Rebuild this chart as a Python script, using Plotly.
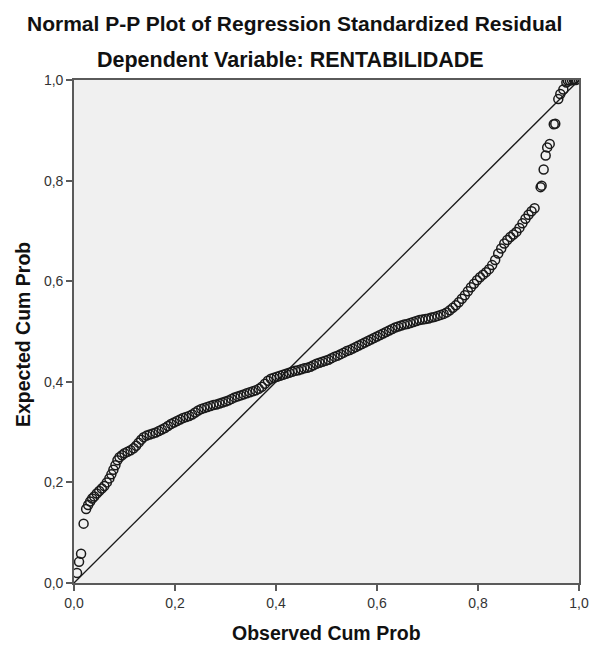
import plotly.graph_objects as go

# Observed cumulative probability (x) and expected cumulative probability (y)
observed = [
    0.006, 0.010, 0.014, 0.019, 0.024, 0.028, 0.032, 0.036, 0.040, 0.045,
    0.050, 0.055, 0.060, 0.065, 0.070, 0.074, 0.078, 0.082, 0.086, 0.090,
    0.095, 0.100, 0.106, 0.112, 0.118, 0.123, 0.128, 0.133, 0.138, 0.144,
    0.150, 0.156, 0.162, 0.168, 0.174, 0.180, 0.186, 0.192, 0.198, 0.204,
    0.210, 0.216, 0.222, 0.228, 0.234, 0.240, 0.246, 0.252, 0.258, 0.264,
    0.270, 0.276, 0.282, 0.288, 0.294, 0.300, 0.306, 0.312, 0.318, 0.324,
    0.330, 0.336, 0.342, 0.348, 0.354, 0.360, 0.366, 0.372, 0.378, 0.384,
    0.390, 0.396, 0.402, 0.408, 0.414, 0.420, 0.426, 0.432, 0.438, 0.444,
    0.450, 0.456, 0.462, 0.468, 0.474, 0.480, 0.486, 0.492, 0.498, 0.504,
    0.510, 0.516, 0.522, 0.528, 0.534, 0.540, 0.546, 0.552, 0.558, 0.564,
    0.570, 0.576, 0.582, 0.588, 0.594, 0.600, 0.606, 0.612, 0.618, 0.624,
    0.630, 0.636, 0.642, 0.648, 0.654, 0.660, 0.666, 0.672, 0.678, 0.684,
    0.690, 0.696, 0.702, 0.708, 0.714, 0.720, 0.726, 0.732, 0.738, 0.744,
    0.750, 0.756, 0.762, 0.768, 0.774, 0.780, 0.786, 0.792, 0.798, 0.804,
    0.810, 0.816, 0.822, 0.828, 0.834, 0.840, 0.846, 0.852, 0.858, 0.864,
    0.870, 0.876, 0.882, 0.888, 0.894, 0.900, 0.906, 0.912, 0.924, 0.926,
    0.930, 0.934, 0.937, 0.942, 0.950, 0.953, 0.959, 0.963, 0.969, 0.975,
    0.978, 0.982, 0.986, 0.990, 0.994,
]
expected = [
    0.020, 0.042, 0.058, 0.118, 0.147, 0.155, 0.162, 0.168, 0.172, 0.178,
    0.183, 0.188, 0.193, 0.200, 0.208, 0.216, 0.225, 0.234, 0.244, 0.250,
    0.254, 0.258, 0.261, 0.264, 0.268, 0.273, 0.279, 0.285, 0.290, 0.293,
    0.295, 0.297, 0.299, 0.302, 0.305, 0.308, 0.312, 0.316, 0.319, 0.322,
    0.325, 0.328, 0.330, 0.332, 0.335, 0.339, 0.343, 0.346, 0.348, 0.350,
    0.352, 0.354, 0.355, 0.357, 0.359, 0.361, 0.363, 0.366, 0.369, 0.371,
    0.373, 0.375, 0.377, 0.379, 0.381, 0.383, 0.386, 0.390, 0.396, 0.402,
    0.406, 0.408, 0.410, 0.412, 0.414, 0.416, 0.418, 0.420, 0.422, 0.423,
    0.425, 0.427, 0.428, 0.430, 0.433, 0.436, 0.438, 0.440, 0.442, 0.444,
    0.447, 0.450, 0.452, 0.455, 0.458, 0.461, 0.463, 0.466, 0.469, 0.472,
    0.475, 0.478, 0.481, 0.484, 0.487, 0.490, 0.493, 0.496, 0.499, 0.502,
    0.505, 0.508, 0.510, 0.512, 0.514, 0.515, 0.517, 0.519, 0.521, 0.523,
    0.524, 0.525, 0.526, 0.528, 0.529, 0.531, 0.533, 0.535, 0.538, 0.542,
    0.547, 0.552, 0.558, 0.565, 0.572, 0.580, 0.588, 0.595, 0.602, 0.608,
    0.613, 0.618, 0.624, 0.632, 0.642, 0.655, 0.665, 0.675, 0.682, 0.688,
    0.693, 0.698, 0.706, 0.715, 0.724, 0.732, 0.739, 0.745, 0.787, 0.790,
    0.822, 0.850, 0.866, 0.873, 0.912, 0.913, 0.962, 0.972, 0.981, 0.995,
    0.999, 0.999, 1.000, 1.000, 1.000,
]

# Reference (normal) line endpoints
ref_x = [0.0, 1.0]
ref_y = [0.0, 1.0]

tick_vals = [0.0, 0.2, 0.4, 0.6, 0.8, 1.0]
tick_text = ["0,0", "0,2", "0,4", "0,6", "0,8", "1,0"]

title_text = "Normal P-P Plot of Regression Standardized Residual"
subtitle_text = "Dependent Variable: RENTABILIDADE"
x_title = "Observed Cum Prob"
y_title = "Expected Cum Prob"

FONT = "Liberation Sans, Arial, sans-serif"

fig = go.Figure()
fig.add_trace(go.Scatter(
    x=ref_x, y=ref_y, mode="lines",
    line=dict(color="#1a1a1a", width=1.3),
    hoverinfo="skip", showlegend=False,
))
fig.add_trace(go.Scatter(
    x=observed, y=expected, mode="markers",
    marker=dict(symbol="circle-open", size=9, color="#1a1a1a",
                line=dict(width=1.5, color="#1a1a1a")),
    showlegend=False,
))

axis_common = dict(
    range=[0, 1], tickvals=tick_vals, ticktext=tick_text,
    showgrid=False, zeroline=False, showline=True, mirror=True,
    linecolor="#5a5a5a", linewidth=1.6, automargin=False,
    ticks="outside", ticklen=6, tickwidth=1.6, tickcolor="#5a5a5a",
    tickfont=dict(family=FONT, size=14, color="#333333"),
)

title_font = dict(family=FONT, size=19.5, color="#111111", weight="bold")

fig.update_layout(
    width=590, height=646,
    margin=dict(l=74, r=11, t=80, b=63),
    paper_bgcolor="white", plot_bgcolor="#f0f0f0",
    xaxis=axis_common,
    yaxis=axis_common,
    annotations=[
        dict(text=title_text, xref="paper", yref="paper", x=0.4365, y=1.0,
             yshift=57, xanchor="center", yanchor="middle", showarrow=False,
             font=dict(family=FONT, size=21, color="#111111", weight="bold")),
        dict(text=subtitle_text, xref="paper", yref="paper", x=0.429, y=1.0,
             yshift=20, xanchor="center", yanchor="middle", showarrow=False,
             font=dict(family=FONT, size=21.5, color="#111111", weight="bold")),
        dict(text=x_title, xref="paper", yref="paper", x=0.5, y=0.0,
             yshift=-50, xanchor="center", yanchor="middle", showarrow=False,
             font=title_font),
        dict(text=y_title, xref="paper", yref="paper", x=0.0, y=0.493,
             xshift=-51, xanchor="center", yanchor="middle", showarrow=False,
             textangle=-90, font=title_font),
    ],
)

fig.write_html("out.html")
